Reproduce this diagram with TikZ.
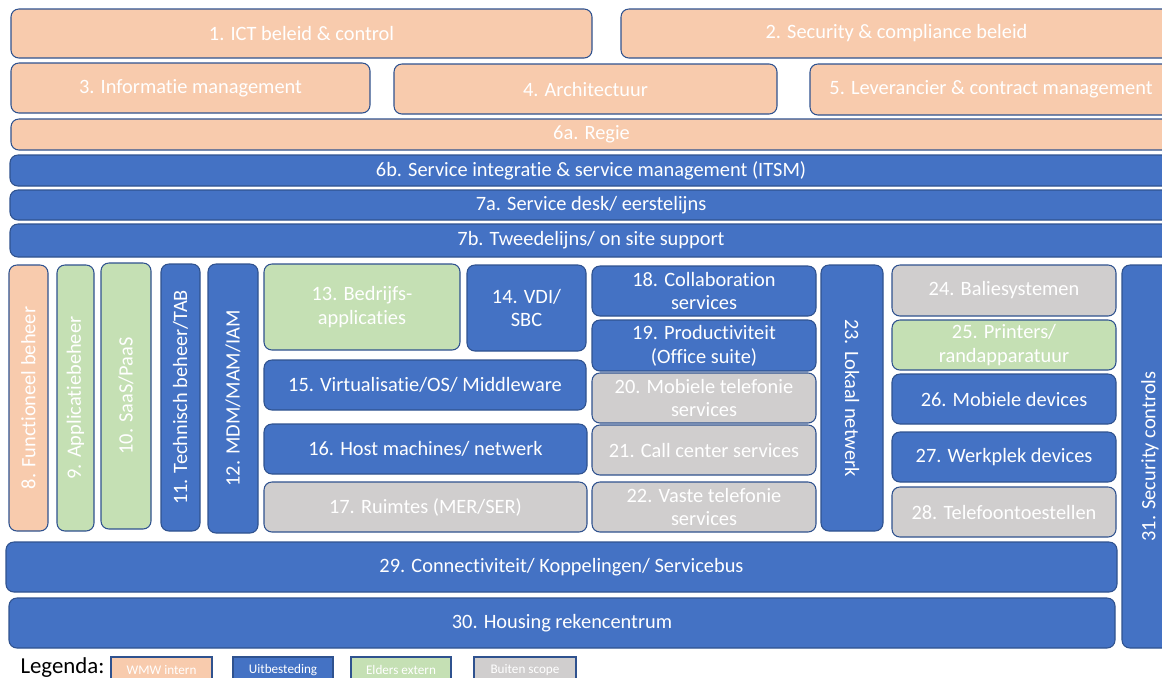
\documentclass[tikz,border=0pt]{standalone}
\usepackage{fontspec}
\setmainfont{Carlito}[Ligatures=NoCommon]
\definecolor{intern}{HTML}{F8CBAD}
\definecolor{uitbest}{HTML}{4472C4}
\definecolor{elders}{HTML}{C5E0B4}
\definecolor{buiten}{HTML}{D0CECE}
\definecolor{rand}{HTML}{2F528F}
\tikzset{
  vak/.style={draw=rand, rounded corners=4.5pt, text=white, align=center,
    inner sep=0pt, outer sep=0pt, font=\fontsize{11.6}{13.6}\selectfont},
  wmw/.style={vak, fill=intern},
  ext/.style={vak, fill=uitbest},
  eld/.style={vak, fill=elders},
  bui/.style={vak, fill=buiten},
  leg/.style={draw=rand, text=white, inner sep=0pt, outer sep=0pt,
    font=\fontsize{7.5}{9}\selectfont}
}
% blok: naam, stijl, x1, y1, x2, y2, tekst (in pixels)
\newcommand{\blok}[7]{\node[#2, minimum width={(#5-#3)*0.02cm}, minimum height={(#6-#4)*0.02cm}] (#1) at ({(#3+#5)/2},{(#4+#6)/2}) {#7};}
% staand blok met gedraaide tekst
\newcommand{\staand}[8]{\node[#2, rotate=#7, minimum width={(#6-#4)*0.02cm}, minimum height={(#5-#3)*0.02cm}] (#1) at ({(#3+#5)/2},{(#4+#6)/2}) {#8};}
\begin{document}
\begin{tikzpicture}[x=0.02cm, y=-0.02cm, line width=0.6pt]
		\useasboundingbox (0,0) rectangle (1162,677);
		\clip (0,0) rectangle (1162,677);
		% beleid en regie
		\blok{b1}{wmw}{11}{9}{592}{58}{1. ICT beleid \& control}
		\blok{b2}{wmw}{621}{9}{1172}{58}{2. Security \& compliance beleid}
		\blok{b3}{wmw}{11}{63}{370}{113}{3. Informatie management}
		\blok{b4}{wmw}{394}{64}{777}{114}{4. Architectuur}
		\blok{b5}{wmw}{810}{64}{1172}{115}{5. Leverancier \& contract management}
		\blok{b6a}{wmw}{11}{119}{1172}{150}{6a. Regie}
		\blok{b6b}{ext}{10}{155}{1172}{186}{6b. Service integratie \& service management (ITSM)}
		\blok{b7a}{ext}{10}{190}{1172}{220}{7a. Service desk/ eerstelijns}
		\blok{b7b}{ext}{10}{224}{1172}{257}{7b. Tweedelijns/ on site support}
		% staande kolommen
		\staand{b8}{wmw}{9}{265}{48}{531}{90}{8. Functioneel beheer}
		\staand{b9}{eld}{57}{265}{94}{531}{90}{9. Applicatiebeheer}
		\staand{b10}{eld}{101}{263}{151}{529}{90}{10. SaaS/PaaS}
		\staand{b11}{ext}{161}{264}{200}{531}{90}{11. Technisch beheer/TAB}
		\staand{b12}{ext}{208}{264}{258}{533}{90}{12. MDM/MAM/IAM}
		% applicaties en infrastructuur
		\blok{b13}{eld}{264}{264}{460}{350}{13. Bedrijfs-\\applicaties}
		\blok{b14}{ext}{467}{265}{586}{351}{14. VDI/\\SBC}
		\blok{b15}{ext}{264}{360}{586}{410}{15. Virtualisatie/OS/ Middleware}
		\blok{b16}{ext}{264}{424}{587}{474}{16. Host machines/ netwerk}
		\blok{b17}{bui}{264}{482}{587}{532}{17. Ruimtes (MER/SER)}
		% services
		\blok{b18}{ext}{592}{266}{816}{316}{18. Collaboration\\services}
		\blok{b19}{ext}{592}{320}{816}{371}{19. Productiviteit\\(Office suite)}
		\blok{b20}{bui}{592}{373}{816}{423}{20. Mobiele telefonie\\services}
		\blok{b21}{bui}{592}{425}{816}{475}{21. Call center services}
		\blok{b22}{bui}{592}{482}{816}{532}{22. Vaste telefonie\\services}
		\staand{b23}{ext}{821}{265}{883}{531}{-90}{23. Lokaal netwerk}
		% devices
		\blok{b24}{bui}{892}{265}{1116}{316}{24. Baliesystemen}
		\blok{b25}{eld}{892}{320}{1116}{370}{25. Printers/\\randapparatuur}
		\blok{b26}{ext}{892}{374}{1116}{424}{26. Mobiele devices}
		\blok{b27}{ext}{892}{432}{1116}{482}{27. Werkplek devices}
		\blok{b28}{bui}{892}{487}{1116}{537}{28. Telefoontoestellen}
		% onderlaag
		\blok{b29}{ext}{6}{542}{1117}{592}{29. Connectiviteit/ Koppelingen/ Servicebus}
		\blok{b30}{ext}{9}{598}{1115}{648}{30. Housing rekencentrum}
		\staand{b31}{ext}{1122}{265}{1178}{648}{90}{31. Security controls}
		% legenda
		\node[anchor=base west, inner sep=0pt, font=\fontsize{13}{15}\selectfont] (legenda) at (20,673) {Legenda:};
		\node[leg, fill=intern, minimum width=101*0.02cm, minimum height=26*0.02cm] (l1) at (161.5,670) {WMW intern};
		\node[leg, fill=uitbest, minimum width=100*0.02cm, minimum height=26*0.02cm] (l2) at (283,670) {Uitbesteding};
		\node[leg, fill=elders, minimum width=100*0.02cm, minimum height=26*0.02cm] (l3) at (401,670) {Elders extern};
		\node[leg, fill=buiten, minimum width=102*0.02cm, minimum height=26*0.02cm] (l4) at (525,670) {Buiten scope};
\end{tikzpicture}
\end{document}
